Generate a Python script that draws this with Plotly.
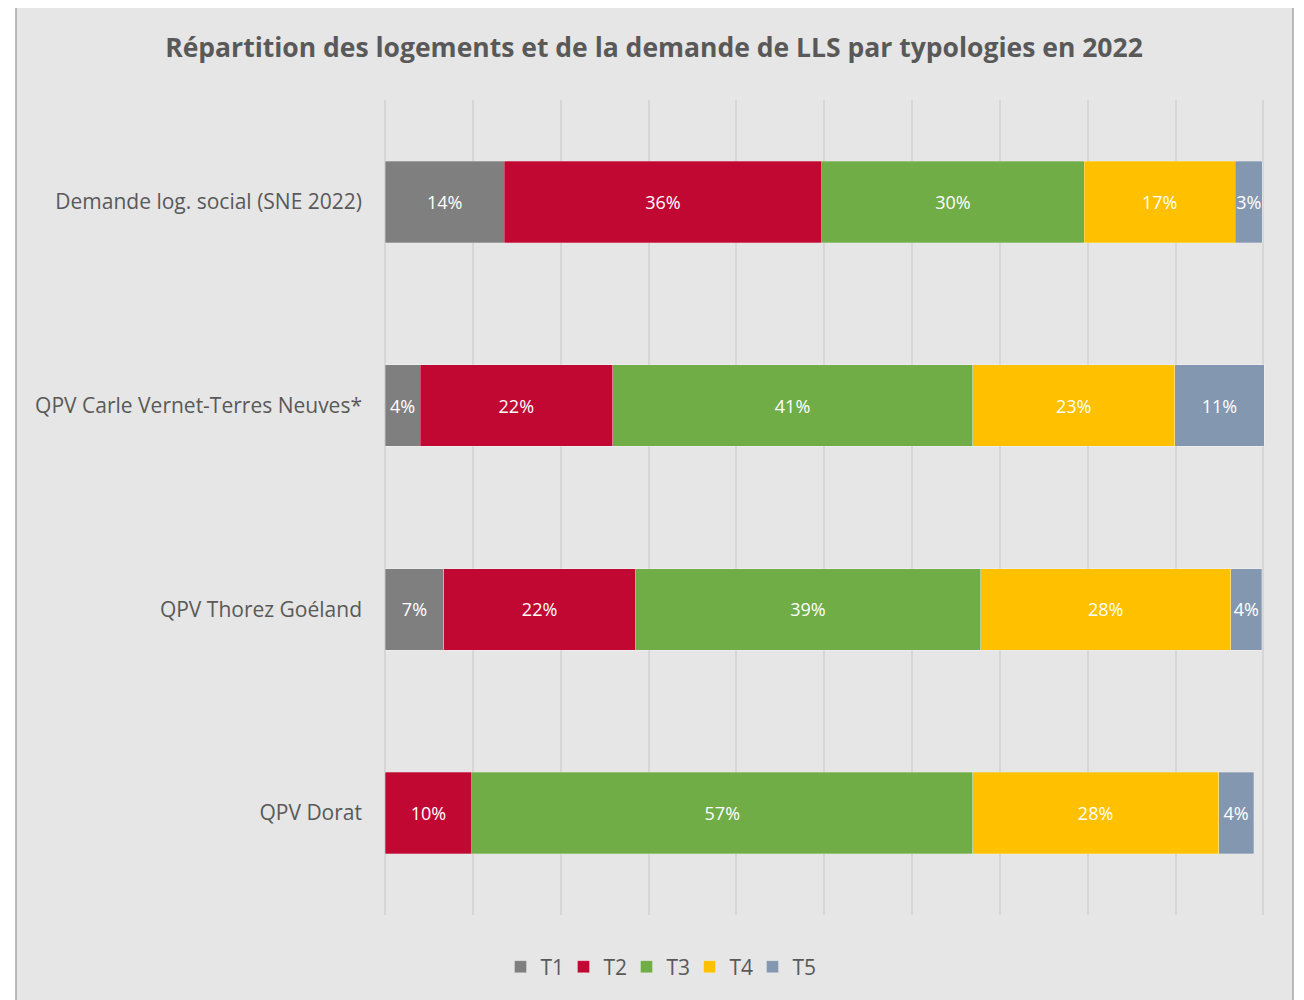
import plotly.graph_objs as go

categories = ['Demande log. social (SNE 2022)', 'QPV Carle Vernet-Terres Neuves*',
              'QPV Thorez Goéland', 'QPV Dorat']
series = ['T1', 'T2', 'T3', 'T4', 'T5']
colors = ['#7f7f7f', '#c00833', '#70ad47', '#ffc000', '#8497b0']

# shares (%), and the labels shown on the bars
t1 = [13.6, 4.0, 6.7, 0.0]
t2 = [36.1, 21.9, 21.8, 9.9]
t3 = [29.9, 41.0, 39.3, 57.0]
t4 = [17.2, 23.0, 28.5, 28.0]
t5 = [3.1, 10.2, 3.5, 4.0]
t1_lbl = ['14%', '4%', '7%', '']
t2_lbl = ['36%', '22%', '22%', '10%']
t3_lbl = ['30%', '41%', '39%', '57%']
t4_lbl = ['17%', '23%', '28%', '28%']
t5_lbl = ['3%', '11%', '4%', '4%']

values = [t1, t2, t3, t4, t5]
labels = [t1_lbl, t2_lbl, t3_lbl, t4_lbl, t5_lbl]

grey_txt = '#595959'
grid_col = '#d6d6d6'
font_family = 'Open Sans, Liberation Sans, sans-serif'

fig = go.Figure()
for name, vals, lbl, col in zip(series, values, labels, colors):
    fig.add_trace(go.Bar(
        y=categories, x=vals, name=name, orientation='h',
        marker=dict(color=col, line=dict(color='rgba(255,255,255,0.35)', width=0.75)),
        text=lbl, textposition='inside', insidetextanchor='middle',
        constraintext='none', textangle=0,
        textfont=dict(color='white', size=18, family=font_family),
        hoverinfo='name+x+y',
    ))

# page is drawn 8px in from the window edge; plot area on page x 385..1266 (0..100.3), y 100..915
OFF = 8
W, H = 1288, 992
XMAX = 100.3
L, R = 385 - OFF, W - (1266 - OFF)
T, B = 100 - OFF, H - (915 - OFF)
pw, ph = W - L - R, H - T - B


def px_x(p):
    return (p - OFF - L) / pw


def px_y(p):
    return (H - B - (p - OFF)) / ph


fig.update_layout(
    width=W, height=H,
    barmode='stack', bargap=0.6,
    paper_bgcolor='white', plot_bgcolor='#e6e6e6',
    font=dict(family=font_family, color=grey_txt, size=18),
    title=dict(text='<b>Répartition des logements et de la demande de LLS par typologies en 2022</b>',
               x=(654 - OFF) / W, xanchor='center', y=1 - (48 - OFF) / H, yanchor='middle',
               font=dict(size=26.5, color=grey_txt, family=font_family)),
    margin=go.layout.Margin(l=L, r=R, t=T, b=B, autoexpand=False),
    showlegend=True,
    legend=dict(orientation='h', traceorder='normal',
                xref='container', yref='container',
                x=(658 - OFF) / W, xanchor='center', y=1 - (967 - OFF) / H, yanchor='middle',
                font=dict(size=21, color=grey_txt), bgcolor='rgba(0,0,0,0)',
                entrywidth=18, entrywidthmode='pixels', tracegroupgap=0),
    shapes=[dict(type='rect', xref='paper', yref='paper', layer='below',
                 x0=px_x(16), x1=px_x(1293), y0=px_y(1015), y1=px_y(7),
                 fillcolor='#e6e6e6', line=dict(color='#a6a6a6', width=1.5))],
)

fig.update_xaxes(range=[0, XMAX], dtick=10, tick0=0, showticklabels=False,
                 showgrid=True, gridcolor=grid_col, gridwidth=1.5,
                 zeroline=True, zerolinecolor=grid_col, zerolinewidth=1.5,
                 fixedrange=True)
fig.update_yaxes(autorange='reversed', showgrid=False, ticks='',
                 ticklabelstandoff=22, tickfont=dict(size=21, color=grey_txt))

fig.write_html("out.html")
